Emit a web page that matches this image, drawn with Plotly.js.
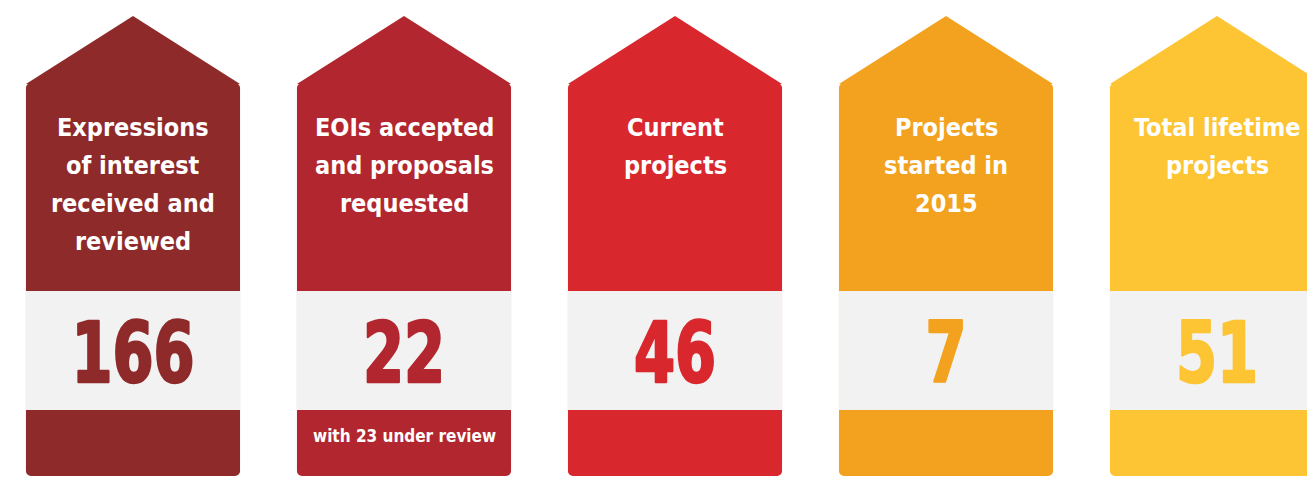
<!DOCTYPE html>
<html><head><meta charset="utf-8">
<script src="https://cdn.plot.ly/plotly-3.0.1.min.js"></script>
<style>html,body{margin:0;padding:0;background:#fff;}#chart{width:1307px;height:477px;}</style>
</head><body><div id="chart"></div>
<script>
// Data
const categories = [
  "Expressions<br>of interest<br>received and<br>reviewed",
  "EOIs accepted<br>and proposals<br>requested",
  "Current<br>projects",
  "Projects<br>started in<br>2015",
  "Total lifetime<br>projects"
];
const values = [166, 22, 46, 7, 51];
const notes = ["", "with 23 under review", "", "", ""];
const colors = ["#8F2A2A", "#B2272F", "#D9272E", "#F2A21E", "#FDC433"];

const FONT = "'Liberation Sans Narrow', 'DejaVu Sans Condensed', 'Arial Narrow', sans-serif";
const idx = categories.map((_, i) => i);
const W = 0.79;           // panel width in category units
const TOP = 16, SHOULDER = 83, BOTTOM = 476, BAND0 = 291, BAND1 = 410;

const traces = [
  { type: 'bar', x: idx, base: idx.map(() => SHOULDER), y: idx.map(() => BOTTOM - SHOULDER),
    width: W, marker: { color: colors, cornerradius: 5, line: { width: 0 } }, hoverinfo: 'skip' },
  { type: 'bar', x: idx, base: idx.map(() => BAND0), y: idx.map(() => BAND1 - BAND0),
    width: W, marker: { color: '#F2F2F2', line: { width: 0 } }, hoverinfo: 'skip' }
];

const shapes = idx.map(i => ({
  type: 'path', xref: 'x', yref: 'y', layer: 'below',
  path: `M ${i - W/2},${SHOULDER + 1} L ${i},${TOP} L ${i + W/2},${SHOULDER + 1} Z`,
  fillcolor: colors[i], line: { width: 0 }
}));

const annotations = [];
const numberAnn = [];
idx.forEach(i => {
  categories[i].split('<br>').forEach((ln, k) => {
    annotations.push({ x: i, y: 127 + 38 * k, xref: 'x', yref: 'y', text: '<b>' + ln + '</b>',
      showarrow: false, xanchor: 'center', yanchor: 'middle',
      font: { family: FONT, size: 25, color: '#FFFFFF' } });
  });
  numberAnn.push(annotations.length);
  annotations.push({ x: i, y: 353, xref: 'x', yref: 'y', text: '<b>' + values[i] + '</b>',
    showarrow: false, xanchor: 'center', yanchor: 'middle',
    font: { family: FONT, size: 83, color: colors[i] } });
  if (notes[i]) annotations.push({ x: i, y: 436, xref: 'x', yref: 'y', text: '<b>' + notes[i] + '</b>',
    showarrow: false, xanchor: 'center', yanchor: 'middle',
    font: { family: FONT, size: 17, color: '#FFFFFF' } });
});

const layout = {
  width: 1307, height: 477, margin: { l: 0, r: 0, t: 0, b: 0 },
  paper_bgcolor: '#FFFFFF', plot_bgcolor: '#FFFFFF',
  barmode: 'overlay', showlegend: false,
  xaxis: { range: [-133/271, (1307-133)/271], visible: false, fixedrange: true },
  yaxis: { range: [477, 0], visible: false, fixedrange: true },
  shapes, annotations
};
Plotly.newPlot('chart', traces, layout, { displayModeBar: false, staticPlot: true }).then(() => {
  // narrow and thicken the big numbers to mimic a heavy condensed face
  document.querySelectorAll('#chart g.annotation').forEach(g => {
    const k = +g.getAttribute('data-index');
    const pos = numberAnn.indexOf(k);
    if (pos < 0) return;
    const t = g.querySelector('text.annotation-text');
    if (!t) return;
    const bb = t.getBBox();
    const cx = bb.x + bb.width / 2;
    t.setAttribute('transform', `translate(${cx},0) scale(0.79,1) translate(${-cx},0)`);
    t.style.stroke = colors[pos];
    t.style.strokeWidth = '2.6px';
    t.style.strokeLinejoin = 'round';
  });
});
</script></body></html>
